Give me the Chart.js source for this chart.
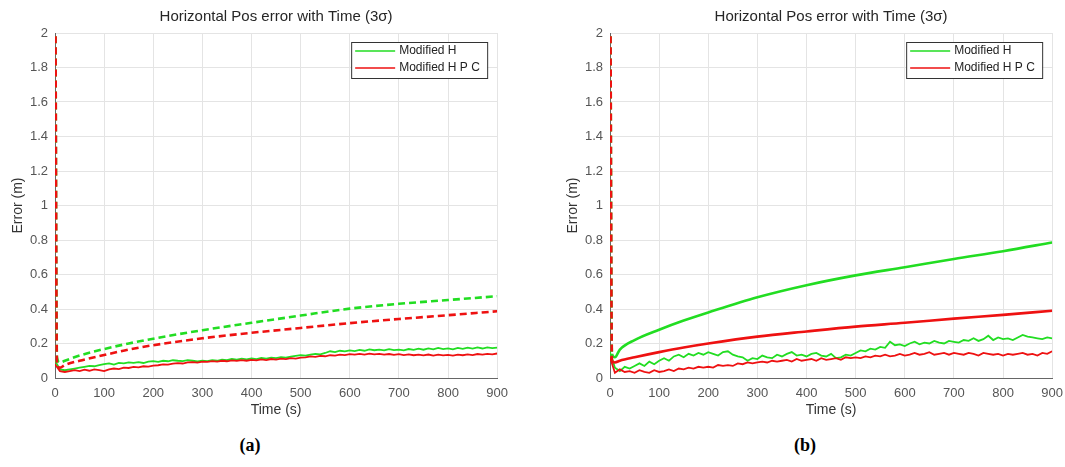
<!DOCTYPE html>
<html>
<head>
<meta charset="utf-8">
<script src="https://cdn.jsdelivr.net/npm/chart.js@4.4.1/dist/chart.umd.min.js"></script>
<style>
  body { margin: 0; background: #fff; width: 1065px; height: 467px; overflow: hidden; position: relative; }
  canvas { position: absolute; top: 0; }
  #cA { left: 0; }
  #cB { left: 555px; }
  .cap { position: absolute; top: 435px; font: bold 18px "Liberation Serif", "Times New Roman", serif; color: #000; transform: translateX(-50%); }
</style>
</head>
<body>
<canvas id="cA" width="516" height="430"></canvas>
<canvas id="cB" width="516" height="430"></canvas>
<div class="cap" style="left:250px">(a)</div>
<div class="cap" style="left:805px">(b)</div>
<script>
// ===============================
// DATA
// ===============================
const chartTitle = "Horizontal Pos error with Time (3σ)";
const seriesNames = ["Modified H", "Modified H P C"];
const xTickValues = [0, 100, 200, 300, 400, 500, 600, 700, 800, 900];
const yTickValues = [0, 0.2, 0.4, 0.6, 0.8, 1, 1.2, 1.4, 1.6, 1.8, 2];
const yTickLabels = ["0", "0.2", "0.4", "0.6", "0.8", "1", "1.2", "1.4", "1.6", "1.8", "2"];

// times of the 3-sigma bound curves
const tBound = [0, 4, 10, 20, 50, 100, 150, 200, 300, 400, 500, 600, 700, 800, 900];
// times of the actual error traces
const tErr = [0, 10, 20, 30, 40, 50, 60, 70, 80, 90, 100, 110, 120, 130, 140, 150, 160, 170, 180, 190,
  200, 210, 220, 230, 240, 250, 260, 270, 280, 290, 300, 310, 320, 330, 340, 350, 360, 370, 380, 390,
  400, 410, 420, 430, 440, 450, 460, 470, 480, 490, 500, 510, 520, 530, 540, 550, 560, 570, 580, 590,
  600, 610, 620, 630, 640, 650, 660, 670, 680, 690, 700, 710, 720, 730, 740, 750, 760, 770, 780, 790,
  800, 810, 820, 830, 840, 850, 860, 870, 880, 890, 900];

// (a)
const boundGreenA = [3.0, 0.12, 0.09, 0.1, 0.13, 0.168, 0.2, 0.228, 0.277, 0.32, 0.362, 0.402, 0.43, 0.452, 0.474];
const boundRedA = [3.0, 0.08, 0.06, 0.075, 0.1, 0.133, 0.165, 0.19, 0.23, 0.262, 0.29, 0.318, 0.342, 0.364, 0.387];
const errGreenA = [0.1, 0.05, 0.045, 0.05, 0.055, 0.06, 0.065, 0.07, 0.068, 0.075, 0.08,
  0.085, 0.078, 0.088, 0.085, 0.09, 0.088, 0.092, 0.087, 0.095, 0.098,
  0.094, 0.1, 0.097, 0.103, 0.1, 0.098, 0.104, 0.1, 0.096, 0.1,
  0.098, 0.104, 0.1, 0.107, 0.103, 0.11, 0.106, 0.112, 0.108, 0.113,
  0.11, 0.116, 0.112, 0.118, 0.115, 0.121, 0.118, 0.124, 0.128, 0.132,
  0.13, 0.136, 0.14, 0.137, 0.145, 0.155, 0.15, 0.158, 0.154, 0.16,
  0.156, 0.163, 0.158, 0.166, 0.161, 0.165, 0.16, 0.167, 0.162, 0.165,
  0.16, 0.168, 0.163, 0.17, 0.164, 0.172, 0.166, 0.175, 0.168, 0.172,
  0.166, 0.174, 0.169, 0.176, 0.17, 0.177, 0.171, 0.178, 0.173, 0.176];
const errRedA = [0.08, 0.04, 0.035, 0.04, 0.045, 0.04, 0.048, 0.042, 0.05, 0.046, 0.04,
  0.05, 0.055, 0.052, 0.06, 0.058, 0.064, 0.062, 0.068, 0.066, 0.072,
  0.074, 0.079, 0.077, 0.083, 0.086, 0.084, 0.09, 0.092, 0.089, 0.095,
  0.093, 0.098, 0.095, 0.1, 0.097, 0.102, 0.099, 0.104, 0.1, 0.105,
  0.102, 0.108, 0.104, 0.11, 0.107, 0.112, 0.109, 0.115, 0.112, 0.118,
  0.12, 0.125, 0.122, 0.128, 0.126, 0.132, 0.13, 0.135, 0.133, 0.138,
  0.135, 0.14, 0.136, 0.141, 0.137, 0.14, 0.135, 0.139, 0.134, 0.138,
  0.133, 0.137, 0.132, 0.136, 0.131, 0.136, 0.13, 0.135, 0.131, 0.134,
  0.13, 0.136, 0.132, 0.137, 0.133, 0.139, 0.135, 0.14, 0.137, 0.142];

// (b)
const boundGreenB = [3.0, 0.14, 0.12, 0.165, 0.22, 0.28, 0.333, 0.38, 0.468, 0.538, 0.595, 0.642, 0.69, 0.735, 0.786];
const boundRedB = [3.0, 0.1, 0.09, 0.1, 0.12, 0.15, 0.177, 0.2, 0.24, 0.27, 0.298, 0.32, 0.344, 0.366, 0.39];
const errGreenB = [0.15, 0.06, 0.04, 0.065, 0.055, 0.07, 0.085, 0.07, 0.095, 0.08, 0.1,
  0.115, 0.1, 0.125, 0.135, 0.12, 0.14, 0.13, 0.145, 0.135, 0.15,
  0.14, 0.13, 0.15, 0.155, 0.135, 0.125, 0.12, 0.1, 0.115, 0.11,
  0.13, 0.12, 0.115, 0.135, 0.125, 0.14, 0.15, 0.13, 0.135, 0.125,
  0.14, 0.145, 0.13, 0.125, 0.14, 0.115, 0.12, 0.135, 0.13, 0.145,
  0.16, 0.155, 0.17, 0.165, 0.18, 0.175, 0.21, 0.19, 0.195, 0.185,
  0.2, 0.21, 0.195, 0.205, 0.2, 0.215, 0.205, 0.2, 0.215, 0.21,
  0.205, 0.22, 0.215, 0.23, 0.215, 0.225, 0.245, 0.22, 0.235, 0.225,
  0.23, 0.22, 0.235, 0.25, 0.24, 0.235, 0.23, 0.225, 0.235, 0.23];
const errRedB = [0.12, 0.03, 0.05, 0.035, 0.04, 0.03, 0.045, 0.035, 0.03, 0.045, 0.035,
  0.04, 0.05, 0.04, 0.055, 0.05, 0.06, 0.055, 0.065, 0.06, 0.065,
  0.06, 0.075, 0.07, 0.075, 0.07, 0.085, 0.08, 0.09, 0.085, 0.09,
  0.095, 0.09, 0.1, 0.095, 0.1, 0.105, 0.095, 0.11, 0.1, 0.105,
  0.11, 0.1, 0.115, 0.105, 0.11, 0.115, 0.105, 0.12, 0.115, 0.12,
  0.115, 0.125, 0.12, 0.13, 0.125, 0.135, 0.125, 0.13, 0.14, 0.13,
  0.135, 0.145, 0.135, 0.14, 0.15, 0.135, 0.14, 0.145, 0.135, 0.145,
  0.14, 0.135, 0.145, 0.14, 0.13, 0.145, 0.14, 0.135, 0.14, 0.13,
  0.14, 0.135, 0.14, 0.145, 0.135, 0.14, 0.13, 0.145, 0.14, 0.155];

const GREEN = "#22dd22";
const RED = "#ee1111";
const FONT = "'Liberation Sans', Arial, sans-serif";

// ===============================
// HELPERS
// ===============================
const pts = (xs, ys) => xs.map((x, i) => ({ x: x, y: ys[i] }));

// title centred over the axes (not the whole canvas), MATLAB style
const axesTitle = {
    id: "axesTitle",
    afterDraw(chart) {
        const { ctx, chartArea } = chart;
        ctx.save();
        ctx.font = "15px " + FONT;
        ctx.fillStyle = "#262626";
        ctx.textAlign = "center";
        ctx.textBaseline = "middle";
        ctx.fillText(chartTitle, (chartArea.left + chartArea.right) / 2, chartArea.top - 16);
        ctx.restore();
    }
};

// legend drawn as a boxed inset, top-right of the plot
const boxLegend = {
    id: "boxLegend",
    afterDraw(chart) {
        const { ctx, chartArea } = chart;
        const w = 136, h = 36;
        const x = chartArea.right - 146, y = chartArea.top + 9;
        ctx.save();
        ctx.fillStyle = "#fff";
        ctx.fillRect(x, y, w, h);
        ctx.strokeStyle = "#333";
        ctx.lineWidth = 1;
        ctx.strokeRect(x + 0.5, y + 0.5, w, h);
        ctx.font = "12px " + FONT;
        ctx.textBaseline = "middle";
        [GREEN, RED].forEach((c, i) => {
            const ly = y + 9 + i * 17;
            ctx.strokeStyle = c;
            ctx.lineWidth = 1.5;
            ctx.beginPath();
            ctx.moveTo(x + 4, ly);
            ctx.lineTo(x + 44, ly);
            ctx.stroke();
            ctx.fillStyle = "#222";
            ctx.fillText(seriesNames[i], x + 48, ly);
        });
        ctx.restore();
    }
};

// boundDash: dash used along the whole bound curve; spikeOnly: dash only the start spike
function makeChart(id, bG, bR, eG, eR, boundDash, spikeOnly) {
    const bound = (data, color) => ({
        data, borderColor: color, borderWidth: 2.6,
        borderDash: spikeOnly ? [] : boundDash,
        segment: spikeOnly ? { borderDash: c => c.p0DataIndex === 0 ? boundDash : [] } : {},
        pointRadius: 0, fill: false, cubicInterpolationMode: "monotone"
    });
    const trace = (data, color) => ({
        data, borderColor: color, borderWidth: 1.8, tension: 0,
        pointRadius: 0, fill: false
    });
    return new Chart(document.getElementById(id), {
        type: "line",
        data: {
            datasets: [
                bound(pts(tBound, bR), RED),
                trace(pts(tErr, eR), RED),
                bound(pts(tBound, bG), GREEN),
                trace(pts(tErr, eG), GREEN)
            ]
        },
        options: {
            responsive: false,
            devicePixelRatio: 1,
            animation: false,
            layout: { padding: { left: 0, right: 0, top: 33, bottom: 0 } },
            plugins: {
                legend: { display: false },
                tooltip: { enabled: false },
                title: { display: false }
            },
            scales: {
                x: {
                    type: "linear",
                    min: 0, max: 900,
                    afterBuildTicks: s => { s.ticks = xTickValues.map(v => ({ value: v })); },
                    afterFit: s => { s.height = 52; },
                    ticks: {
                        color: "#555", padding: 8, maxRotation: 0,
                        font: { family: FONT, size: 13 },
                        callback: v => String(v)
                    },
                    grid: { color: "#e4e4e4", drawTicks: false },
                    border: { color: "#666", width: 1 },
                    title: {
                        display: true, text: "Time (s)", color: "#333",
                        font: { family: FONT, size: 14 },
                        padding: { top: 0, bottom: 11 }
                    }
                },
                y: {
                    min: 0, max: 2,
                    afterBuildTicks: s => { s.ticks = yTickValues.map(v => ({ value: v })); },
                    afterFit: s => { s.width = 55; },
                    ticks: {
                        color: "#555", padding: 7,
                        font: { family: FONT, size: 13 },
                        callback: (v, i) => yTickLabels[i]
                    },
                    grid: { color: "#e4e4e4", drawTicks: false },
                    border: { color: "#666", width: 1 },
                    title: {
                        display: true, text: "Error (m)", color: "#333",
                        font: { family: FONT, size: 14 },
                        padding: { top: 10, bottom: 0 }
                    }
                }
            }
        },
        plugins: [axesTitle, boxLegend]
    });
}

makeChart("cA", boundGreenA, boundRedA, errGreenA, errRedA, [7, 4], false);
makeChart("cB", boundGreenB, boundRedB, errGreenB, errRedB, [7, 4], true);
</script>
</body>
</html>
